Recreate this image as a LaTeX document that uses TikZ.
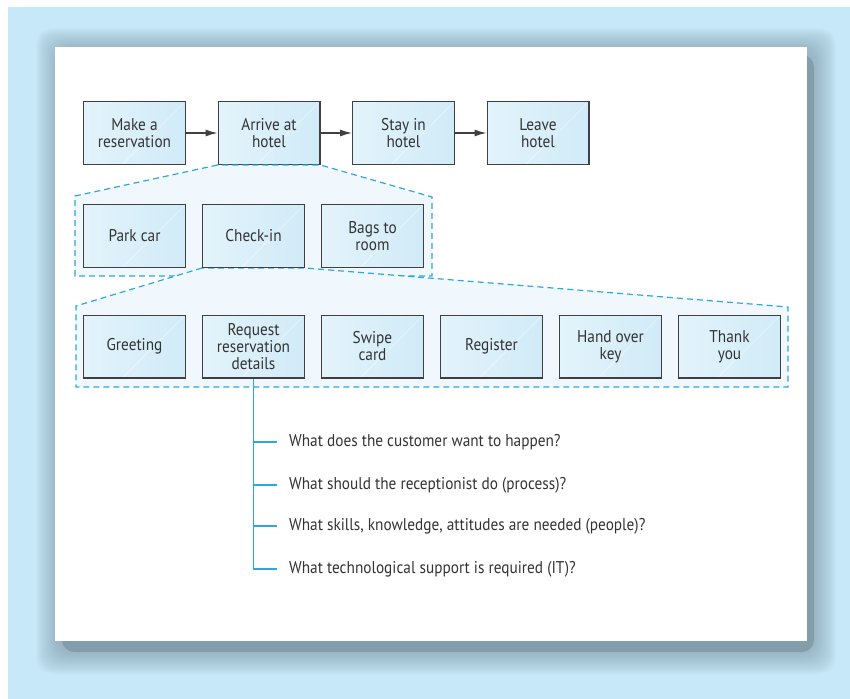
\documentclass[tikz,border=0pt]{standalone}
\usepackage{fontspec}
\setmainfont{PT Sans}[FakeStretch=0.9]
\usetikzlibrary{arrows.meta,positioning,calc}
\definecolor{bgblue}{HTML}{C6E8F8}
\definecolor{shadowgrey}{HTML}{849DAB}
\definecolor{boxfill}{HTML}{D0EBF8}
\definecolor{boxline}{HTML}{404040}
\definecolor{zoomblue}{HTML}{2BA8E0}
\definecolor{zoomfill}{HTML}{F0F8FD}
\definecolor{inktext}{HTML}{333333}
\tikzset{
  stepbox/.style={draw=boxline, line width=1.3bp, left color=boxfill!60!white, right color=boxfill,
    minimum width=101.7bp, minimum height=62.7bp, inner sep=2bp, align=center, text=inktext,
    font=\fontsize{17bp}{17bp}\selectfont,
    path picture={\draw[white, line width=0.6bp, opacity=0.55]
      ($(path picture bounding box.south)+(-12bp,0)$) -- ($(path picture bounding box.north east)+(-2bp,-2bp)$);}},
  flowarrow/.style={-{Latex[length=12bp,width=7bp]}, line width=1.3bp, draw=boxline},
  zoomarea/.style={draw=zoomblue, fill=zoomfill, line width=1.2bp, dash pattern=on 6bp off 4bp},
  treeline/.style={draw=zoomblue, line width=1.1bp},
  question/.style={anchor=west, inner xsep=12bp, inner ysep=1bp, text=inktext, font=\fontsize{17bp}{17bp}\selectfont}
}
\begin{document}
\begin{tikzpicture}[x=1bp, y=1bp]
\useasboundingbox (0,0) rectangle (850,-699);
% backdrop and panel
\fill[white] (0,0) rectangle (850,-699);
\fill[bgblue] (8,-7) rectangle (850,-699);
\foreach \r in {1,...,24}
  \fill[shadowgrey, opacity=0.035, rounded corners=16bp] (60-\r,-52+\r) rectangle (812+\r,-650-\r);
\fill[shadowgrey, rounded corners=12bp] (62,-55) rectangle (814,-652);
\fill[white] (55,-47) rectangle (807,-641);

% process steps
\node[stepbox] (make) at (134.5,-133) {Make a\\reservation};
\node[stepbox, right=31.5bp of make] (arrive) {Arrive at\\hotel};
\node[stepbox, right=31.5bp of arrive] (stay) {Stay in\\hotel};
\node[stepbox, right=31.5bp of stay] (leave) {Leave\\hotel};

% zoomed areas
\path[zoomarea] (arrive.south west) -- (75,-196) -- (75,-276) -- (432,-276) -- (432,-197) -- (arrive.south east) -- cycle;
\node[stepbox, below=39bp of make] (park) {Park car};
\node[stepbox, right=16bp of park] (checkin) {Check-in};
\node[stepbox, right=16bp of checkin] (bags) {Bags to\\room};
\path[zoomarea] (checkin.south west) -- (76,-306) -- (76,-387) -- (788,-387) -- (788,-307) -- (checkin.south east) -- cycle;
\node[stepbox] at (park) {Park car};
\node[stepbox] at (checkin) {Check-in};
\node[stepbox] at (bags) {Bags to\\room};

\node[stepbox, below=46.5bp of park] (greet) {Greeting};
\node[stepbox, right=16bp of greet] (request) {Request\\reservation\\details};
\node[stepbox, right=16bp of request] (swipe) {Swipe\\card};
\node[stepbox, right=16bp of swipe] (register) {Register};
\node[stepbox, right=16bp of register] (handover) {Hand over\\key};
\node[stepbox, right=16bp of handover] (thank) {Thank\\you};

\draw[flowarrow] (make) -- (arrive);
\draw[flowarrow] (arrive) -- (stay);
\draw[flowarrow] (stay) -- (leave);

% questions
\node[question] (q1) at (277,-442) {What does the customer want to happen?};
\node[question] (q2) at (277,-485) {What should the receptionist do (process)?};
\node[question] (q3) at (277,-526) {What skills, knowledge, attitudes are needed (people)?};
\node[question] (q4) at (277,-569) {What technological support is required (IT)?};
\draw[treeline] (request.south) |- (q4.west);
\foreach \q in {q1,q2,q3}
  \draw[treeline] (request.south |- \q.west) -- (\q.west);
\end{tikzpicture}
\end{document}
